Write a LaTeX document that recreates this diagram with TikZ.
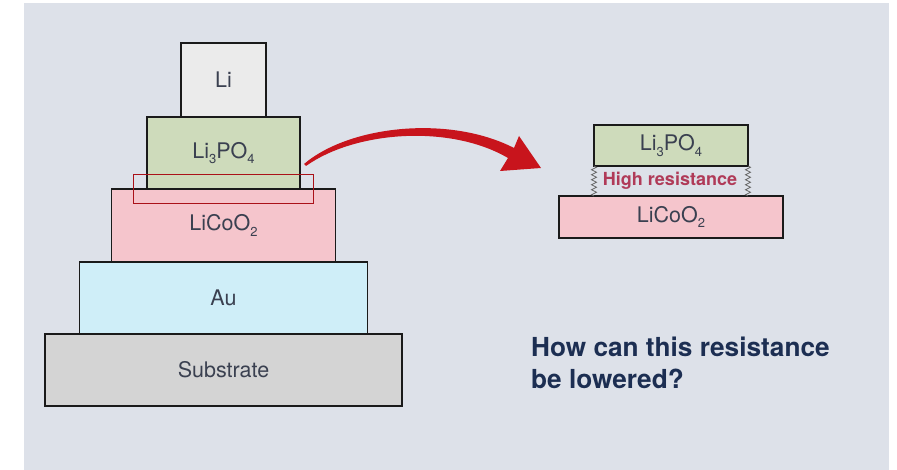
\documentclass[tikz,border=0pt]{standalone}
\usepackage{fontspec}
\setmainfont{TeX Gyre Heros}
\usepackage{tikz}
\usetikzlibrary{positioning,decorations.pathmorphing}
\definecolor{panel}{HTML}{DDE1E9}
\definecolor{edge}{HTML}{1A1A1A}
\definecolor{labelc}{HTML}{3A4050}
\definecolor{lic}{HTML}{EBEBEB}
\definecolor{lipoc}{HTML}{CEDBBB}
\definecolor{licoc}{HTML}{F5C5CC}
\definecolor{auc}{HTML}{CFEEF8}
\definecolor{subc}{HTML}{D4D4D4}
\definecolor{arrowred}{HTML}{C8141C}
\definecolor{resc}{HTML}{B03A58}
\definecolor{navy}{HTML}{1C2E52}
% low, small index for the formulas
\newcommand{\dn}[1]{\raisebox{-0.5ex}{\fontsize{13}{13}\selectfont #1}}
\tikzstyle{layer}=[draw=edge,line width=1.8pt,outer sep=0pt,inner sep=0pt,text=labelc,font=\fontsize{21.5}{24}\selectfont]
\tikzstyle{zonebox}=[draw=arrowred!85!black,line width=1.6pt,inner sep=0pt,minimum width=180,minimum height=29]
\tikzstyle{spring}=[draw=gray!80!black,line width=0.7pt,decorate,decoration={zigzag,amplitude=2.5pt,segment length=5pt}]

\begin{document}
\begin{tikzpicture}[x=1pt,y=-1pt]
        \useasboundingbox (0,0) rectangle (897,470);
        \fill[panel] (24,3) rectangle (889,470);
        % the cell, stacked from the top
        \node[layer,fill=lic,minimum width=85,minimum height=74] (li) at (223.5,80) {Li};
        \node[layer,fill=lipoc,minimum width=153,minimum height=72,below=0pt of li] (lipo) {Li\dn{3}PO\dn{4}};
        \node[layer,fill=licoc,minimum width=224,minimum height=73,below=0pt of lipo] (lico) {LiCoO\dn{2}};
        \node[layer,fill=auc,minimum width=288,minimum height=72,below=0pt of lico] (au) {Au};
        \node[layer,fill=subc,minimum width=357,minimum height=72,below=0pt of au] (sub) {Substrate};
        \node[zonebox] (zone) at (lipo.south) {};
        % close-up of the interface
        \node[layer,fill=lipoc,minimum width=154,minimum height=41] (lipo2) at (671,145.5) {Li\dn{3}PO\dn{4}};
        \node[layer,fill=licoc,minimum width=224,minimum height=42,below=30pt of lipo2] (lico2) {LiCoO\dn{2}};
        \node[text=resc,font=\bfseries\fontsize{18}{20}\selectfont] (hr) at (670,181) {High resistance};
        \draw[spring] (lipo2.south west) -- (lipo2.south west |- lico2.north);
        \draw[spring] (lipo2.south east) -- (lipo2.south east |- lico2.north);
        % tapered arrow
        \coordinate (tail) at (304,164);
        \coordinate (tip) at (541,168);
        \fill[arrowred] (tail) .. controls (350,125) and (450,115) .. (514,148)
            -- (519,136) -- (tip) -- (500,171) -- (508,158)
            .. controls (450,124) and (355,131) .. (306,166) -- cycle;
        \node[anchor=north west,align=left,inner sep=0pt,text=navy,font=\bfseries\fontsize{26.2}{32}\selectfont] (q) at (531,337) {How can this resistance\\be lowered?};
\end{tikzpicture}
\end{document}
